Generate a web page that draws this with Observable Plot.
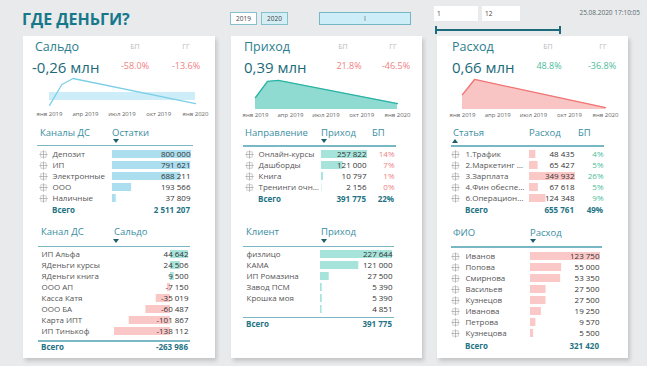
<!DOCTYPE html>
<html><head><meta charset="utf-8">
<script src="https://cdn.jsdelivr.net/npm/d3@7"></script>
<script src="https://cdn.jsdelivr.net/npm/@observablehq/plot@0.6"></script>
<style>
html,body{margin:0;padding:0;}
body{width:647px;height:366px;background:#e9eaec;position:relative;overflow:hidden;font-family:"Open Sans",sans-serif;}
.abs{position:absolute;white-space:nowrap;line-height:1;}
.panel{position:absolute;background:#fff;box-shadow:2px 3px 4px rgba(0,0,0,0.16);}
svg{overflow:visible;}
</style></head><body>
<script>
// ---------- data ----------
const pageTitle = "ГДЕ ДЕНЬГИ?";
const years = ["2019", "2020"];
const monthRange = ["1", "12"];
const stamp = "25.08.2020 17:10:05";
const monthNames = ["янв","фев","мар","апр","май","июн","июл","авг","сен","окт","ноя","дек"];
const sparkTicks = ["2019-01-01","2019-04-01","2019-07-01","2019-10-01","2020-01-01"];

const kpiTitles = ["Сальдо", "Приход", "Расход"];
const kpiValues = ["-0,26 млн", "0,39 млн", "0,66 млн"];
const kpiPlan = ["-58.0%", "21.8%", "48.8%"];
const kpiYoY = ["-13.6%", "-46.5%", "-36.8%"];

const saldoDates = ["2019-01-01","2019-02-01","2019-03-01","2020-01-01"];
const saldoValues = [-0.06, 0.20, 0.275, -0.04];
const saldoPlan = [0.1, 0.1, 0.1, 0.1];
const incomeDates = ["2019-01-01","2019-02-01","2019-03-01","2020-01-01"];
const incomeValues = [0.036, 0.085, 0.088, 0.018];
const expenseDates = ["2019-01-01","2019-02-01","2020-01-01"];
const expenseValues = [0.045, 0.091, 0.006];

const channels = ["Депозит","ИП","Электронные","ООО","Наличные"];
const balances = [800000, 791621, 688211, 193566, 37809];
const balanceTotal = 2511207;

const accounts = ["ИП Альфа","ЯДеньги курсы","ЯДеньги книга","ООО АП","Касса Катя","ООО БА","Карта ИПТ","ИП Тинькоф"];
const accountSaldo = [44642, 24506, 9500, -7150, -35019, -60487, -101867, -138112];
const accountTotal = -263986;

const directions = ["Онлайн-курсы","Дашборды","Книга","Тренинги очн…"];
const directionIncome = [257822, 121000, 10797, 2156];
const directionPlan = ["14%","7%","1%","0%"];
const directionTotal = 391775, directionPlanTotal = "22%";

const clients = ["физлицо","КАМА","ИП Ромазина","Завод ПСМ","Крошка моя",""];
const clientIncome = [227644, 121000, 27500, 5390, 5390, 4851];
const clientTotal = 391775;

const articles = ["1.Трафик","2.Маркетинг …","3.Зарплата","4.Фин обеспе…","6.Операцион…"];
const articleExpense = [48435, 65427, 349932, 67618, 124348];
const articlePlan = ["4%","5%","26%","5%","9%"];
const articleTotal = 655761, articlePlanTotal = "49%";

const people = ["Иванов","Попова","Смирнова","Васильев","Кузнецов","Иванова","Петрова","Кузнецова"];
const personExpense = [123750, 55000, 53350, 27500, 27500, 19250, 9570, 5500];
const personTotal = 321420;

// ---------- helpers ----------
const TEAL = "#1f7384", HEAD = "#3a8e9f", LINE = "#79b7c4", RED = "#ef7f7f", GREEN = "#4dbb9b";
const fmt = v => (v < 0 ? "-" : "") + String(Math.abs(v)).replace(/\B(?=(\d{3})+(?!\d))/g, " ");
const FONT = '"Open Sans", sans-serif';

function txt(str, x, yc, o = {}) {
  const d = document.createElement("div");
  d.className = "abs";
  d.textContent = str;
  d.style.left = x + "px"; d.style.top = yc + "px";
  const tx = o.anchor === "end" ? "-100%" : o.anchor === "middle" ? "-50%" : "0";
  d.style.transform = `translate(${tx},-50%)`;
  d.style.fontSize = (o.size || 8) + "px";
  d.style.color = o.color || "#444";
  if (o.weight) d.style.fontWeight = o.weight;
  document.body.appendChild(d);
  return d;
}
function box(x, y, w, h, css = {}) {
  const d = document.createElement("div");
  d.style.position = "absolute";
  d.style.left = x + "px"; d.style.top = y + "px";
  d.style.width = w + "px"; d.style.height = h + "px";
  d.style.boxSizing = "border-box";
  Object.assign(d.style, css);
  document.body.appendChild(d);
  return d;
}
function place(node, x, y) {
  const w = document.createElement("div");
  w.style.position = "absolute"; w.style.left = x + "px"; w.style.top = y + "px";
  w.appendChild(node);
  document.body.appendChild(w);
}
function arrow(x, y, up) {
  const d = box(x - 3.5, y - 2, 0, 0, {
    borderLeft: "3.5px solid transparent", borderRight: "3.5px solid transparent"
  });
  if (up) d.style.borderBottom = "4px solid #1d5d6c"; else d.style.borderTop = "4px solid #1d5d6c";
}
function hline(x1, x2, y, t = 1.5, c = LINE) { box(x1, y - t / 2, x2 - x1, t, {background: c}); }

function spark(L, dates, values, plan, o) {
  const data = dates.map((d, i) => ({date: new Date(d), v: values[i], p: plan ? plan[i] : null}));
  const marks = [];
  if (plan) marks.push(Plot.areaY(data, {x: "date", y1: 0, y2: "p", fill: o.fill}));
  else marks.push(Plot.areaY(data, {x: "date", y: "v", fill: o.fill}));
  marks.push(Plot.lineY(data, {x: "date", y: "v", stroke: o.stroke, strokeWidth: 1.3}));
  const svg = Plot.plot({
    width: o.width, height: 46,
    marginLeft: o.ml, marginRight: o.mr, marginTop: 2, marginBottom: o.mb,
    x: {type: "utc", domain: [new Date(sparkTicks[0]), new Date(sparkTicks[sparkTicks.length - 1])],
        ticks: sparkTicks.map(d => new Date(d)),
        tickFormat: d => monthNames[d.getUTCMonth()] + " " + d.getUTCFullYear(),
        tickSize: 0, tickPadding: 3.5, label: null},
    y: {axis: null, domain: o.domain},
    style: {fontFamily: FONT, fontSize: "6px", color: "#666", background: "transparent", overflow: "visible"},
    marks
  });
  place(svg, L, 74);
}

function tablePlot(o) {
  const n = o.labels.length;
  const rows = o.labels.map((label, i) => ({i, label, v: o.values[i], e: o.extra ? o.extra[i] : null}));
  const lo = Math.min(0, d3.min(o.values)), hi = d3.max(o.values);
  const H = n * o.rowH;
  const marks = [
    Plot.barX(rows.filter(d => d.v >= 0), {x: "v", y: "i", fill: o.fill}),
    Plot.barX(rows.filter(d => d.v < 0), {x: "v", y: "i", fill: o.negFill || o.fill}),
    Plot.text(rows, {y: "i", text: "label", frameAnchor: "left", dx: o.labelX, textAnchor: "start", fill: "#555"}),
    Plot.text(rows, {y: "i", text: d => fmt(d.v), frameAnchor: "right", dx: o.valueRight - o.width, textAnchor: "end", fill: "#333"})
  ];
  if (o.plusX != null) {
    marks.push(Plot.dot(rows, {y: "i", frameAnchor: "left", dx: o.plusX, symbol: "square", r: 3.1, fill: "#fff", stroke: "#bdbdbd", strokeWidth: 0.7}));
    marks.push(Plot.dot(rows, {y: "i", frameAnchor: "left", dx: o.plusX, symbol: "plus", r: 2.8, fill: "none", stroke: "#a0a0a0", strokeWidth: 0.7}));
  }
  if (o.extra) marks.push(Plot.text(rows, {y: "i", text: "e", frameAnchor: "right", dx: o.extraRight - o.width, textAnchor: "end", fill: o.extraColor}));
  const svg = Plot.plot({
    width: o.width, height: H, margin: 0,
    x: {domain: [lo, hi], range: [o.barX0, o.barX1], axis: null},
    y: {type: "band", domain: d3.range(n), range: [0, H], paddingInner: 0.28, paddingOuter: 0.14, axis: null},
    style: {fontFamily: FONT, fontSize: "8px", background: "transparent", overflow: "visible"},
    marks
  });
  place(svg, o.left, o.top);
}

// ---------- top bar ----------
txt(pageTitle, 22, 19, {size: 16, weight: 700, color: "#17788a"});
box(230, 12, 27, 13, {background: "#fff", border: "1px solid #86c0cc"});
txt(years[0], 243.5, 18.5, {anchor: "middle", size: 6.5, color: "#444"});
box(261, 12, 27, 13, {background: "#d4eef5", border: "1px solid #86c0cc"});
txt(years[1], 274.5, 18.5, {anchor: "middle", size: 6.5, color: "#444"});
box(319, 12, 92, 13, {background: "#cdeef8", border: "1px solid #74b6c4"});
txt("I", 365, 18.5, {anchor: "middle", size: 6.5, color: "#555"});
box(434, 6, 44, 15, {background: "#fff"});
txt(monthRange[0], 437, 13.5, {size: 6.5, color: "#444"});
box(482, 6, 38, 15, {background: "#fff"});
txt(monthRange[1], 485, 13.5, {size: 6.5, color: "#444"});
box(436, 28.5, 125, 2, {background: "#1b6b7c"});
box(435, 25.5, 2, 8, {background: "#1b6b7c"});
box(559, 25.5, 2, 8, {background: "#1b6b7c"});
txt(stamp, 640, 13, {anchor: "end", size: 6.5, color: "#5a6a70"});

// ---------- panels ----------
const panels = [{L: 23, W: 192}, {L: 231, W: 191}, {L: 437, W: 191}];
panels.forEach(p => { const d = box(p.L, 36, p.W, 322); d.className = "panel"; });

// KPI headers
const kpiOff = [{t: 12, v: 9, bp: 112, gg: 163, pv: 112, gv: 163}, {t: 13, v: 13, bp: 112, gg: 162, pv: 118, gv: 165}, {t: 15, v: 15, bp: 111, gg: 166, pv: 112, gv: 165}];
const planColors = [RED, RED, GREEN], yoyColors = [RED, RED, GREEN];
panels.forEach((p, i) => {
  const k = kpiOff[i];
  txt(kpiTitles[i], p.L + k.t, 46.5, {size: 12.5, color: "#2c7e8e"});
  txt("БП", p.L + k.bp, 46, {anchor: "middle", size: 7, color: "#b8b8b8"});
  txt("ГГ", p.L + k.gg, 46, {anchor: "middle", size: 7, color: "#b8b8b8"});
  txt(kpiValues[i], p.L + k.v, 67, {size: 15, color: "#1c6a79"});
  txt(kpiPlan[i], p.L + k.pv, 64.5, {anchor: "middle", size: 9, color: planColors[i]});
  txt(kpiYoY[i], p.L + k.gv, 64.5, {anchor: "middle", size: 9, color: yoyColors[i]});
});

// sparklines
spark(23, saldoDates, saldoValues, saldoPlan, {width: 192, ml: 26, mr: 20, mb: 12, domain: [-0.1, 0.3], fill: "#cdeef8", stroke: "#7ccfe7"});
spark(231, incomeDates, incomeValues, null, {width: 191, ml: 24, mr: 25, mb: 11, domain: [0, 0.1], fill: "#8fdbd1", stroke: "#2ab3a4"});
spark(437, expenseDates, expenseValues, null, {width: 191, ml: 25, mr: 23, mb: 11, domain: [0, 0.1], fill: "#f9c4c4", stroke: "#f07474"});

// ---- panel 1 tables ----
txt("Каналы ДС", 40, 133, {size: 9.5, color: HEAD});
txt("Остатки", 112, 133, {size: 9.5, color: HEAD});
arrow(116, 141, false);
hline(37, 193, 145.5);
tablePlot({left: 23, top: 147.25, width: 192, rowH: 11.5, labels: channels, values: balances,
  plusX: 20, labelX: 29, barX0: 89, barX1: 168, valueRight: 167, fill: "#abdff0"});
txt("Всего", 52, 210, {size: 8, weight: 700, color: TEAL});
txt(fmt(balanceTotal), 190, 210, {anchor: "end", size: 8, weight: 700, color: TEAL});

txt("Канал ДС", 41, 232, {size: 9.5, color: HEAD});
txt("Сальдо", 114, 232, {size: 9.5, color: HEAD});
arrow(116, 241, false);
hline(38, 190, 246.5);
tablePlot({left: 23, top: 247.3, width: 192, rowH: 11.4, labels: accounts, values: accountSaldo,
  labelX: 18, barX0: 91, barX1: 165, valueRight: 165, fill: "#a9e4dc", negFill: "#fac7c7"});
hline(38, 190, 340.5, 2);
txt("Всего", 41, 347, {size: 8, weight: 700, color: TEAL});
txt(fmt(accountTotal), 188, 347, {anchor: "end", size: 8, weight: 700, color: TEAL});

// ---- panel 2 tables ----
txt("Направление", 245, 133, {size: 9.5, color: HEAD});
txt("Приход", 321, 133, {size: 9.5, color: HEAD});
txt("БП", 372, 133, {size: 9.5, color: HEAD});
arrow(324, 141, false);
hline(243, 396, 146);
tablePlot({left: 231, top: 147.3, width: 191, rowH: 11.6, labels: directions, values: directionIncome,
  plusX: 18, labelX: 27, barX0: 90, barX1: 136, valueRight: 135, fill: "#a6e3da",
  extra: directionPlan, extraRight: 163, extraColor: RED});
txt("Всего", 258, 199, {size: 8, weight: 700, color: TEAL});
txt(fmt(directionTotal), 366, 199, {anchor: "end", size: 8, weight: 700, color: TEAL});
txt(directionPlanTotal, 394, 199, {anchor: "end", size: 8, weight: 700, color: TEAL});

txt("Клиент", 246, 232, {size: 9.5, color: HEAD});
txt("Приход", 321, 232, {size: 9.5, color: HEAD});
arrow(324, 241, false);
hline(243, 394, 246.5);
tablePlot({left: 231, top: 247.2, width: 191, rowH: 11.6, labels: clients, values: clientIncome,
  labelX: 15, barX0: 89, barX1: 161, valueRight: 161, fill: "#a6e3da"});
hline(243, 394, 317.5);
txt("Всего", 246, 323.5, {size: 8, weight: 700, color: TEAL});
txt(fmt(clientTotal), 392, 323.5, {anchor: "end", size: 8, weight: 700, color: TEAL});

// ---- panel 3 tables ----
txt("Статья", 453, 133, {size: 9.5, color: HEAD});
txt("Расход", 529, 133, {size: 9.5, color: HEAD});
txt("БП", 578, 133, {size: 9.5, color: HEAD});
arrow(455, 140.5, true);
hline(451, 604, 146);
tablePlot({left: 437, top: 147.25, width: 191, rowH: 11.5, labels: articles, values: articleExpense,
  plusX: 18, labelX: 28, barX0: 92, barX1: 138, valueRight: 137, fill: "#fbc8c8",
  extra: articlePlan, extraRight: 166, extraColor: GREEN});
txt("Всего", 465, 210, {size: 8, weight: 700, color: TEAL});
txt(fmt(articleTotal), 574, 210, {anchor: "end", size: 8, weight: 700, color: TEAL});
txt(articlePlanTotal, 603, 210, {anchor: "end", size: 8, weight: 700, color: TEAL});

txt("ФИО", 453, 233, {size: 9.5, color: HEAD});
txt("Расход", 530, 233, {size: 9.5, color: HEAD});
arrow(533, 241, false);
hline(451, 602, 247);
tablePlot({left: 437, top: 248.2, width: 191, rowH: 11.57, labels: people, values: personExpense,
  plusX: 18, labelX: 28, barX0: 93, barX1: 163, valueRight: 162, fill: "#fbc8c8"});
txt("Всего", 465, 346, {size: 8, weight: 700, color: TEAL});
txt(fmt(personTotal), 599, 346, {anchor: "end", size: 8, weight: 700, color: TEAL});
</script>
</body></html>
